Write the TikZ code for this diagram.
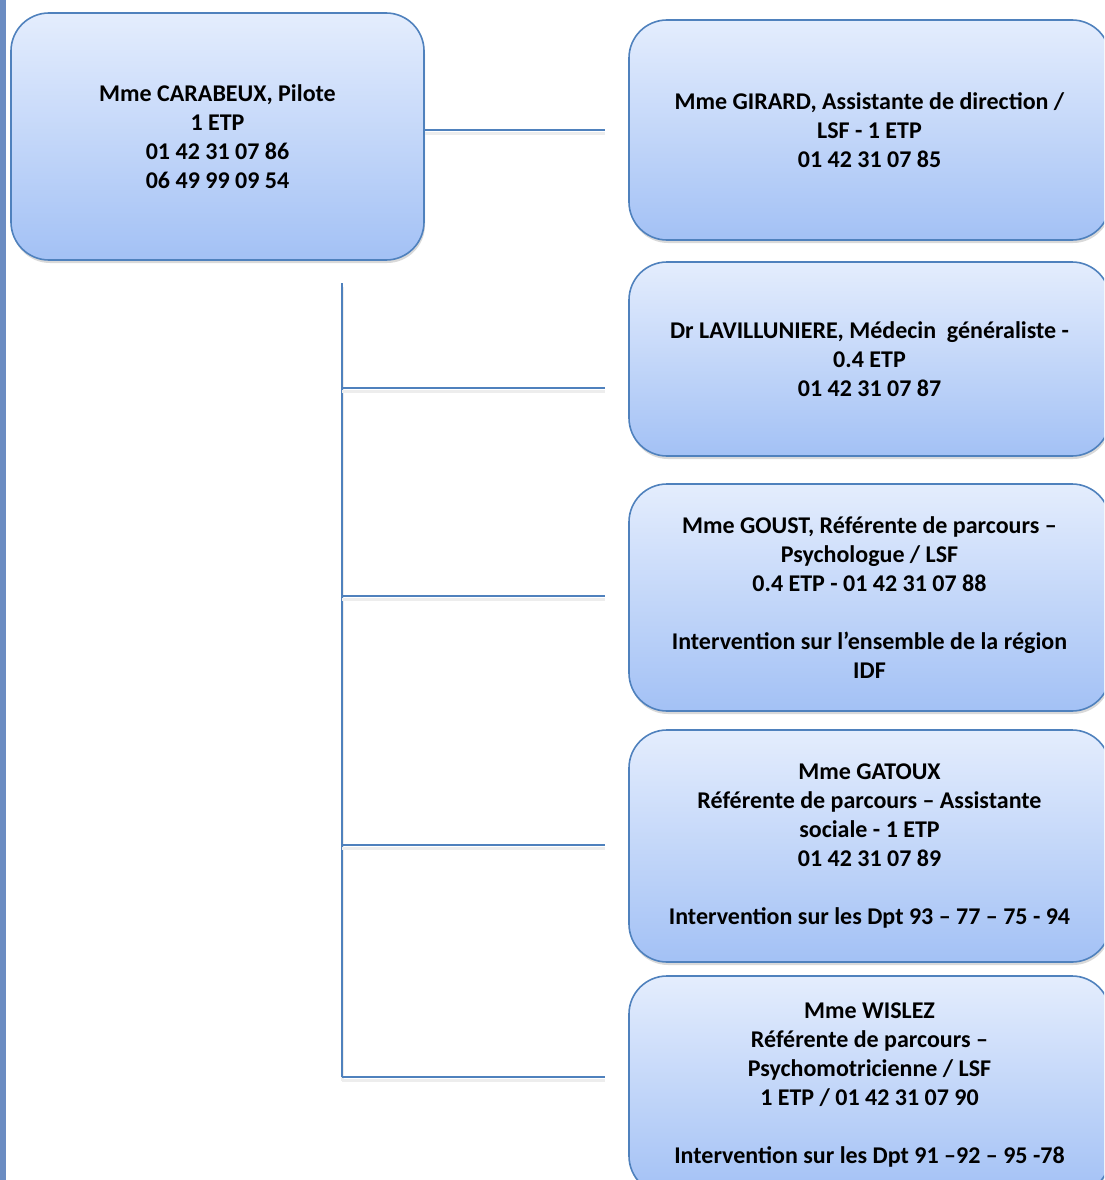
\documentclass[tikz,border=0pt]{standalone}
\usepackage{fontspec}
\setmainfont{Carlito}
\usetikzlibrary{shadows}
\definecolor{bordblue}{RGB}{79,129,189}
\definecolor{topblue}{RGB}{228,237,253}
\definecolor{botblue}{RGB}{163,193,245}
\definecolor{barblue}{RGB}{107,140,194}
\begin{document}
\begin{tikzpicture}[x=1pt,y=-1pt,
  orgbox/.style={draw=bordblue, line width=1.6pt, rounded corners=38pt,
    top color=topblue, bottom color=botblue, align=center,
    font=\bfseries\fontsize{24}{29}\selectfont, inner sep=0pt,
    drop shadow={shadow xshift=1pt,shadow yshift=-3pt,opacity=0.3}},
  link/.style={draw=bordblue, line width=2.2pt,
    preaction={draw=black!7, line width=3pt, transform canvas={yshift=-3.5pt}}}]
\useasboundingbox (0,0) rectangle (1104,1180);
\clip (0,0) rectangle (1104,1180);
\fill[barblue] (0,0) rectangle (6,1180);

\node[orgbox, minimum width=413pt, minimum height=247pt] (pilot) at (217.5,136.5)
  {Mme CARABEUX, Pilote\\1 ETP\\01 42 31 07 86\\06 49 99 09 54};
\node[orgbox, minimum width=481pt, minimum height=220pt] (girard) at (869.5,130)
  {Mme GIRARD, Assistante de direction /\\LSF - 1 ETP\\01 42 31 07 85};
\node[orgbox, minimum width=481pt, minimum height=194pt] (lav) at (869.5,359)
  {Dr LAVILLUNIERE, Médecin\ \ généraliste -\\0.4 ETP\\01 42 31 07 87};
\node[orgbox, minimum width=481pt, minimum height=227pt] (goust) at (869.5,597.5)
  {Mme GOUST, Référente de parcours –\\Psychologue / LSF\\0.4 ETP - 01 42 31 07 88\\[29pt]Intervention sur l’ensemble de la région\\IDF};
\node[orgbox, minimum width=481pt, minimum height=232pt] (gatoux) at (869.5,846)
  {Mme GATOUX\\Référente de parcours – Assistante\\sociale - 1 ETP\\01 42 31 07 89\\[29pt]Intervention sur les Dpt 93 – 77 – 75 - 94};
\node[orgbox, minimum width=481pt, minimum height=218pt] (wislez) at (869.5,1085)
  {Mme WISLEZ\\Référente de parcours –\\Psychomotricienne / LSF\\1 ETP / 01 42 31 07 90\\[29pt]Intervention sur les Dpt 91 –92 – 95 -78};

\coordinate (e0) at (605,130);
\coordinate (t0) at (342,283);
\coordinate (t1) at (342,388);
\coordinate (t2) at (342,596);
\coordinate (t3) at (342,845);
\coordinate (t4) at (342,1077);
\coordinate (e1) at (605,388);
\coordinate (e2) at (605,596);
\coordinate (e3) at (605,845);
\coordinate (e4) at (605,1077);

\draw[link] (pilot.east |- e0) -- (e0);
\draw[link] (t0) -- (t4);
\draw[link] (t1) -- (e1);
\draw[link] (t2) -- (e2);
\draw[link] (t3) -- (e3);
\draw[link] (t4) -- (e4);
\end{tikzpicture}
\end{document}
